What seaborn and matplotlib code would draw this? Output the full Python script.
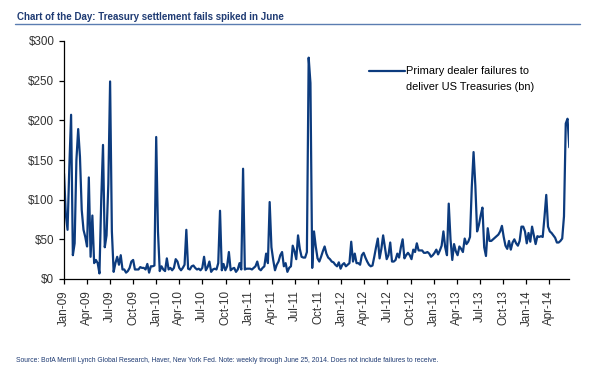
import numpy as np
import pandas as pd
import matplotlib
matplotlib.use("Agg")
import matplotlib.pyplot as plt
from matplotlib.lines import Line2D
from matplotlib import font_manager as fm
import seaborn as sns

# ---------------- data ----------------
START_DATE = "2009-01-07"
END_DATE = "2014-06-25"

fails_2009 = [133, 82, 62, 141, 207, 30, 45, 150, 189, 154,
              87, 62, 53, 41, 128, 28, 80, 20, 24, 20,
              7, 100, 169, 40, 55, 120, 249, 60, 9, 20,
              28, 18, 30, 12, 12, 8, 10, 14, 22, 24,
              12, 12, 12, 15, 14, 14, 12, 19, 8, 16,
              16, 17]
fails_2010 = [179, 60, 10, 16, 12, 10, 26, 12,
              14, 11, 14, 25, 22, 14, 11, 14, 18, 62,
              13, 12, 16, 17, 14, 12, 13, 11, 14, 28,
              11, 15, 22, 9, 12, 13, 12, 20, 86, 11,
              19, 11, 16, 34, 11, 13, 14, 9, 12, 20,
              12, 139, 12, 13]
fails_2011 = [13, 13, 12, 14, 16, 22,
              13, 11, 14, 16, 32, 20, 97, 40, 24, 11,
              18, 22, 30, 34, 16, 20, 9, 14, 16, 42,
              35, 25, 55, 38, 28, 27, 27, 34, 279, 247,
              14, 60, 41, 26, 22, 28, 35, 41, 32, 27,
              25, 22]
fails_2012 = [21, 18, 16, 21, 13, 18, 20, 16, 18, 20,
              47, 22, 32, 20, 20, 18, 30, 33, 27, 22,
              18, 16, 17, 28, 40, 51, 26, 38, 55, 40,
              25, 30, 46, 22, 22, 24, 32, 27, 40, 50,
              26, 30, 33, 30, 25, 37, 34, 45, 36, 36,
              36, 33, 33]
fails_2013 = [34, 32, 28, 30, 33, 37, 31, 36, 42, 60,
              40, 30, 95, 50, 24, 44, 35, 30, 41, 38,
              34, 51, 44, 47, 53, 116, 160, 118, 60, 68,
              80, 90, 40, 29, 64, 48, 48, 50, 52, 54,
              56, 60, 67, 53, 42, 38, 48, 37, 46, 50,
              45, 42]
fails_2014 = [48, 66, 66, 60, 45, 58, 47, 66, 55, 44,
              54, 53, 54, 53, 78, 106, 66, 60, 58, 55,
              52, 46, 46, 48, 51, 79, 196, 202, 166]

fails = fails_2009 + fails_2010 + fails_2011 + fails_2012 + fails_2013 + fails_2014
dates = pd.date_range(START_DATE, END_DATE, freq="7D")
n = min(len(dates), len(fails))
df = pd.DataFrame({"date": dates[:n], "fails": fails[:n]})

tick_labels = ["Jan-09", "Apr-09", "Jul-09", "Oct-09", "Jan-10", "Apr-10", "Jul-10",
               "Oct-10", "Jan-11", "Apr-11", "Jul-11", "Oct-11", "Jan-12", "Apr-12",
               "Jul-12", "Oct-12", "Jan-13", "Apr-13", "Jul-13", "Oct-13", "Jan-14",
               "Apr-14"]
y_ticks = [0, 50, 100, 150, 200, 250, 300]
y_tick_labels = ["$0", "$50", "$100", "$150", "$200", "$250", "$300"]

title_text = "Chart of the Day: Treasury settlement fails spiked in June"
legend_lines = ["Primary dealer failures to", "deliver US Treasuries (bn)"]
footer_text = ("Source: BofA Merrill Lynch Global Research, Haver, New York Fed. "
               "Note: weekly through June 25, 2014. Does not include failures to receive.")

# ---------------- style ----------------
sns.set_theme(style="white")
names = {f.name for f in fm.fontManager.ttflist}
BASE = "Liberation Sans" if "Liberation Sans" in names else "DejaVu Sans"
plt.rcParams["font.family"] = [BASE, "DejaVu Sans"]

LINE_COLOR = "#0C3B7E"
TITLE_COLOR = "#1F3B73"
TEXT_COLOR = "#333333"

W, H = 592, 374
fig = plt.figure(figsize=(W / 100, H / 100), dpi=100)
fig.patch.set_facecolor("white")
left, right, top, bottom = 64, 569.3, 41, 279
ax = fig.add_axes([left / W, 1 - bottom / H, (right - left) / W, (bottom - top) / H])

sns.lineplot(data=df, x="date", y="fails", ax=ax, color=LINE_COLOR, linewidth=1.6,
             legend=False)

ax.set_xlim(df["date"].iloc[0], df["date"].iloc[-1])
ax.set_ylim(0, 300)
tick_dates = pd.date_range(START_DATE, periods=len(tick_labels), freq=pd.DateOffset(months=3))
ax.set_xticks(tick_dates)
ax.set_xticklabels(tick_labels, rotation=90, fontsize=8.4, color=TEXT_COLOR)
ax.set_yticks(y_ticks)
ax.set_yticklabels(y_tick_labels, fontsize=8.4, color=TEXT_COLOR)
ax.set_xlabel("")
ax.set_ylabel("")
ax.grid(False)
for s in ["top", "right"]:
    ax.spines[s].set_visible(False)
for s in ["left", "bottom"]:
    ax.spines[s].set_color("black")
    ax.spines[s].set_linewidth(0.9)
ax.tick_params(axis="both", which="major", direction="out", length=3.5, width=0.9,
               color="black", pad=3.5, left=True, bottom=True)
ax.tick_params(axis="x", pad=4.5)
ax.set_facecolor("white")

# title and rule
fig.text(17 / W, 1 - 16.5 / H, title_text, fontsize=7.0, fontweight="bold",
         color=TITLE_COLOR, va="center", ha="left")
fig.add_artist(Line2D([15 / W, 580 / W], [1 - 23.5 / H] * 2, color="#5B7DB1", lw=1.0))

# legend (drawn manually to align handle with first line)
fig.add_artist(Line2D([368.5 / W, 405 / W], [1 - 71 / H] * 2, color=LINE_COLOR, lw=1.6))
fig.text(406.5 / W, 1 - 71.5 / H, legend_lines[0], fontsize=7.9,
         color="black", va="center", ha="left")
fig.text(406.5 / W, 1 - 87.2 / H, legend_lines[1], fontsize=7.9,
         color="black", va="center", ha="left")

# footer
fig.text(16 / W, 1 - 361 / H, footer_text, fontsize=4.9,
         color=TITLE_COLOR, va="center", ha="left")

fig.savefig("out.png", dpi=100, facecolor="white")
